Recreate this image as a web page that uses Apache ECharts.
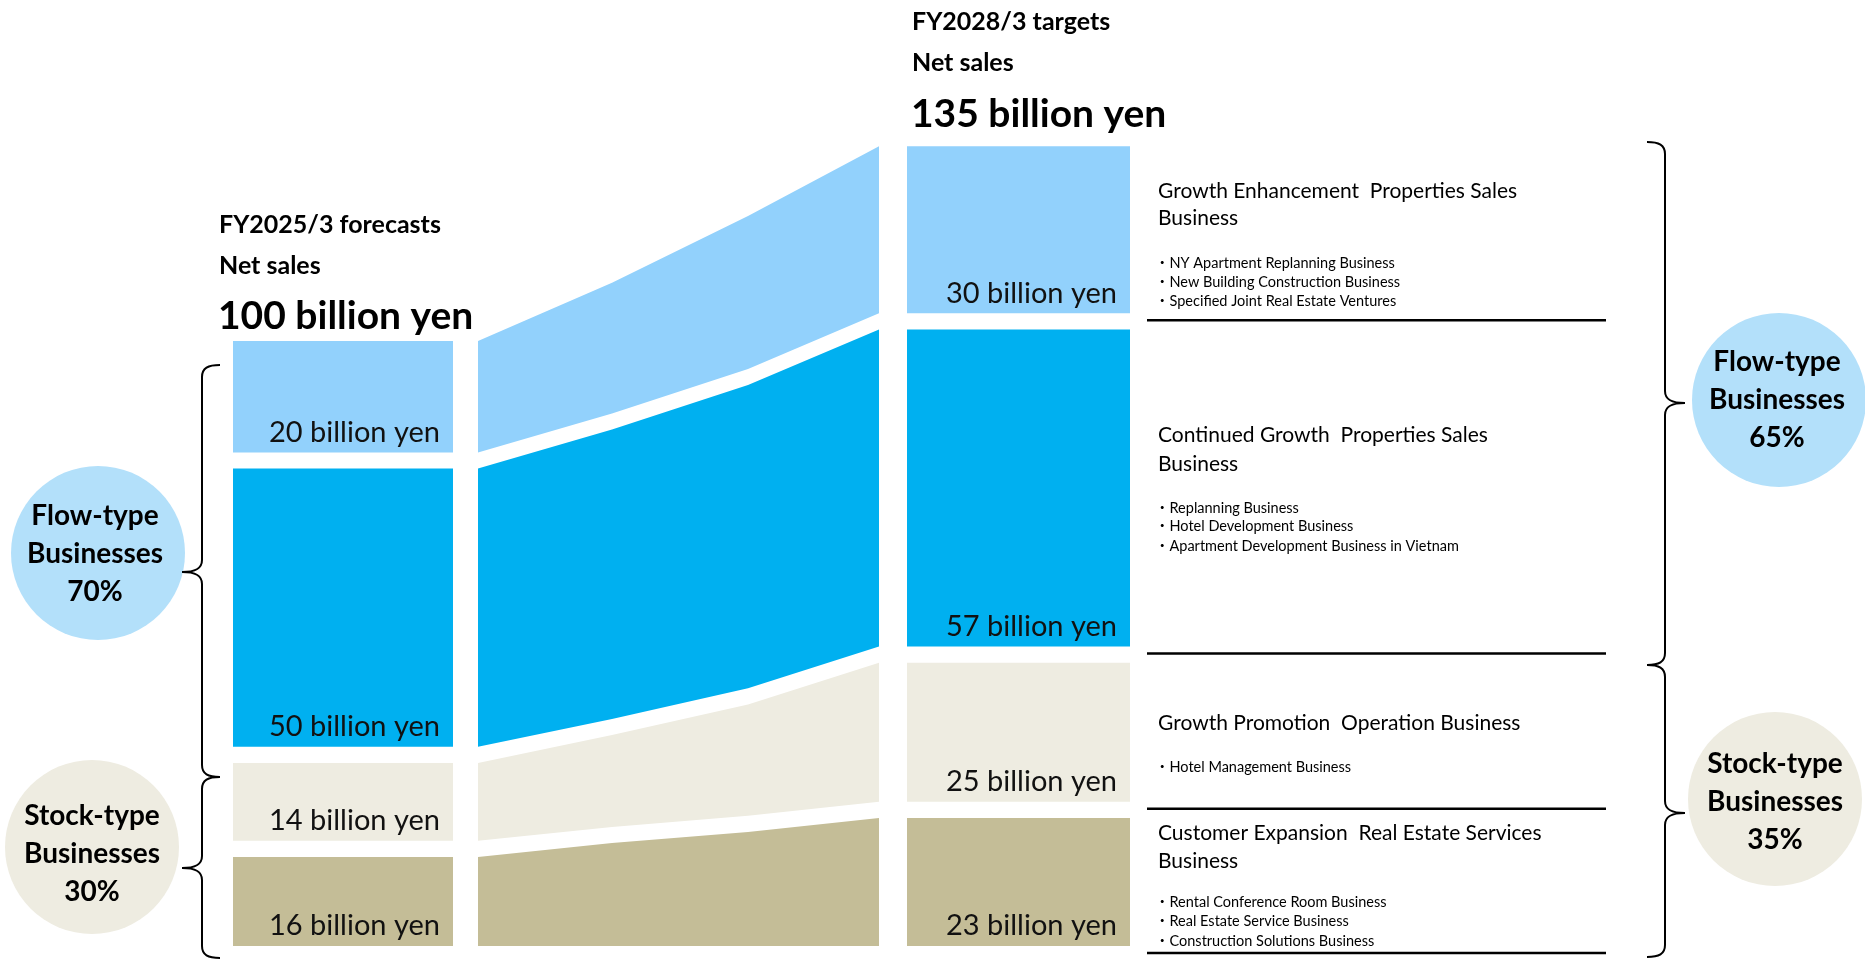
<!DOCTYPE html>
<html>
<head>
<meta charset="utf-8">
<title>Net sales by business segment</title>
<script src="https://cdn.jsdelivr.net/npm/echarts@6/dist/echarts.min.js"></script>
<style>
  html, body { margin: 0; padding: 0; background: #ffffff; }
  #chart { width: 1865px; height: 959px; }
</style>
</head>
<body>
<div id="chart"></div>
<script>
// ---- data (billion yen) ----
const fiscalYears = ['FY2025/3', 'FY2026/3', 'FY2027/3', 'FY2028/3'];
const segmentNames = ['Growth Enhancement', 'Continued Growth', 'Growth Promotion', 'Customer Expansion'];
const salesFY2025 = [20, 50, 14, 16];
const salesFY2026 = [23.5, 52, 16.5, 18.5];
const salesFY2027 = [27.5, 54.5, 20, 20.5];
const salesFY2028 = [30, 57, 25, 23];
const netSalesTotals = [100, 135];
const flowShare = [70, 65];
const stockShare = [30, 35];
const segmentTitles = [
  ['Growth Enhancement  Properties Sales', 'Business'],
  ['Continued Growth  Properties Sales', 'Business'],
  ['Growth Promotion  Operation Business'],
  ['Customer Expansion  Real Estate Services', 'Business']
];
const segmentBusinesses = [
  ['NY Apartment Replanning Business', 'New Building Construction Business', 'Specified Joint Real Estate Ventures'],
  ['Replanning Business', 'Hotel Development Business', 'Apartment Development Business in Vietnam'],
  ['Hotel Management Business'],
  ['Rental Conference Room Business', 'Real Estate Service Business', 'Construction Solutions Business']
];

// ---- styles & layout ----
const segmentColors = ['#92D1FC', '#00B0F0', '#EEECE1', '#C4BD97'];
const FONT = 'Lato, "Noto Sans CJK JP", "Noto Sans", sans-serif';
const GAP = 2.9;                     // white gap between stacked blocks (value units)
const LEFT_BAR_X = [233, 453];
const RIGHT_BAR_X = [907, 1130];
const BAND_X = [478, 612, 748, 879]; // one position per fiscal year along the flow band
const DESC_LINE_X = [1147, 1606];

const yearSales = [salesFY2025, salesFY2026, salesFY2027, salesFY2028];

// stack segments bottom-up (last segment at the bottom), with gaps
function stackRanges(values) {
  const out = new Array(values.length);
  let base = 0;
  for (let i = values.length - 1; i >= 0; i--) {
    out[i] = [base, base + values[i]];
    base += values[i] + GAP;
  }
  return out;
}
const stacks = yearSales.map(stackRanges);

const bandData = segmentNames.map((n, i) => [i]);
const barData = [];
[0, 3].forEach(yi => yearSales[yi].forEach((v, si) => barData.push([yi, si, v])));

function renderBand(params, api) {
  const s = api.value(0);
  const top = BAND_X.map((x, j) => api.coord([x, stacks[j][s][1]]));
  const bottom = BAND_X.map((x, j) => api.coord([x, stacks[j][s][0]])).reverse();
  return {
    type: 'polygon',
    shape: { points: top.concat(bottom) },
    style: { fill: segmentColors[s] }
  };
}

function renderBar(params, api) {
  const yi = api.value(0), s = api.value(1), v = api.value(2);
  const xr = yi === 0 ? LEFT_BAR_X : RIGHT_BAR_X;
  const lo = stacks[yi][s][0];
  const p0 = api.coord([xr[0], lo + v]);
  const p1 = api.coord([xr[1], lo]);
  const children = [
    {
      type: 'rect',
      shape: { x: p0[0], y: p0[1], width: p1[0] - p0[0], height: p1[1] - p0[1] },
      style: { fill: segmentColors[s] }
    },
    {
      type: 'text',
      style: {
        text: v + ' billion yen', x: p1[0] - 13, y: p1[1] - 20,
        align: 'right', verticalAlign: 'middle',
        font: '29px ' + FONT, fill: '#111'
      }
    }
  ];
  if (yi === 3) {
    const l0 = api.coord([DESC_LINE_X[0], lo]);
    const l1 = api.coord([DESC_LINE_X[1], lo]);
    children.push({
      type: 'line',
      shape: { x1: l0[0], y1: l0[1] + 7, x2: l1[0], y2: l1[1] + 7 },
      style: { stroke: '#000', lineWidth: 2.5 }
    });
  }
  return { type: 'group', children };
}

// ---- curly braces grouping flow-type / stock-type blocks ----
// [x of the vertical stroke, top, point, bottom, direction]
const braces = [
  [202, 365, 572, 777, -1],
  [202, 777, 868, 958, -1],
  [1665, 142, 403, 665, 1],
  [1665, 665, 813, 957, 1]
];
function bracePath(x, top, mid, bot, dir) {
  const tip = x - dir * 18, pt = x + dir * 20, c = x - dir * 6, m = x + dir * 7;
  return `M${tip} ${top} C${c} ${top} ${x} ${top + 3} ${x} ${top + 12} L${x} ${mid - 12} ` +
    `C${x} ${mid - 3} ${m} ${mid} ${pt} ${mid} C${m} ${mid} ${x} ${mid + 3} ${x} ${mid + 12} ` +
    `L${x} ${bot - 12} C${x} ${bot - 3} ${c} ${bot} ${tip} ${bot}`;
}
function renderBraces() {
  return {
    type: 'group',
    children: braces.map(b => ({
      type: 'path',
      shape: { pathData: bracePath(...b) },
      style: { fill: 'none', stroke: '#000', lineWidth: 2 }
    }))
  };
}

// ---- annotation graphics ----
function text(str, x, y, size, bold, align) {
  return {
    type: 'text', silent: true,
    style: {
      text: str, x, y, align: align || 'left', verticalAlign: 'middle',
      font: (bold ? 'bold ' : '') + size + 'px ' + FONT, fill: '#000'
    }
  };
}
function shareBubble(cx, cy, fill, label, share, textX, firstLineY) {
  return [
    { type: 'circle', silent: true, shape: { cx, cy, r: 87 }, style: { fill } },
    text(label, textX, firstLineY, 28, true, 'center'),
    text('Businesses', textX, firstLineY + 38, 28, true, 'center'),
    text(share + '%', textX, firstLineY + 76, 28, true, 'center')
  ];
}

const graphics = [
  text(fiscalYears[0] + ' forecasts', 219, 225, 25, true),
  text('Net sales', 219, 266, 25, true),
  text(netSalesTotals[0] + ' billion yen', 218, 316, 39, true),
  text(fiscalYears[3] + ' targets', 912, 22, 25, true),
  text('Net sales', 912, 63, 25, true),
  text(netSalesTotals[1] + ' billion yen', 911, 114, 39, true),
  ...shareBubble(98, 553, '#B3E0FA', 'Flow-type', flowShare[0], 95, 516),
  ...shareBubble(92, 847, '#EEECE1', 'Stock-type', stockShare[0], 92, 816),
  ...shareBubble(1779, 400, '#B3E0FA', 'Flow-type', flowShare[1], 1777, 362),
  ...shareBubble(1775, 799, '#EEECE1', 'Stock-type', stockShare[1], 1775, 764)
];

// segment descriptions beside the target column
const titleY = [[191, 218], [435, 464], [723], [833, 861]];
const bulletY = [[263, 282, 301], [508, 526, 546], [767], [902, 921, 941]];
segmentTitles.forEach((lines, i) => {
  lines.forEach((ln, k) => graphics.push(text(ln, 1158, titleY[i][k], 21, false)));
  segmentBusinesses[i].forEach((b, k) => graphics.push(text('・' + b, 1155, bulletY[i][k], 14.5, false)));
});

const chart = echarts.init(document.getElementById('chart'), null, { renderer: 'canvas' });
chart.setOption({
  animation: false,
  backgroundColor: '#ffffff',
  grid: { left: 0, right: 0, top: 0, bottom: 13 },
  xAxis: { type: 'value', min: 0, max: 1865, show: false },
  yAxis: { type: 'value', min: 0, max: 170, show: false },
  series: [
    { type: 'custom', name: 'flow', renderItem: renderBand, data: bandData, silent: true },
    { type: 'custom', name: 'sales', renderItem: renderBar, data: barData, silent: true },
    { type: 'custom', name: 'braces', renderItem: renderBraces, data: [[0]], silent: true, clip: false }
  ],
  graphic: graphics
});
</script>
</body>
</html>
